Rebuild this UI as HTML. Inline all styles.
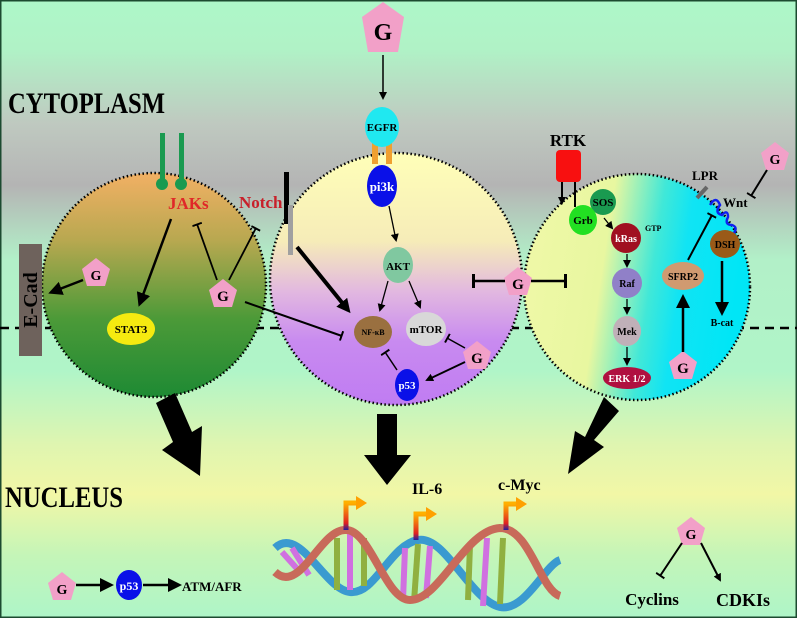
<!DOCTYPE html>
<html><head><meta charset="utf-8"><style>
html,body{margin:0;padding:0;width:797px;height:618px;overflow:hidden;background:#aef5c8}
svg{display:block}
text{font-family:"Liberation Serif",serif;font-weight:bold}
</style></head><body>
<svg width="797" height="618" viewBox="0 0 797 618">
<defs>
<linearGradient id="bg" x1="0" y1="0" x2="0" y2="1">
<stop offset="0" stop-color="#aef7c9"/><stop offset="0.08" stop-color="#b0f2c6"/>
<stop offset="0.2" stop-color="#bfc9c0"/><stop offset="0.3" stop-color="#b4b4b4"/>
<stop offset="0.42" stop-color="#b2f0c8"/><stop offset="0.6" stop-color="#b0f5c8"/>
<stop offset="0.72" stop-color="#dff5b0"/><stop offset="0.8" stop-color="#f2f7a6"/>
<stop offset="0.9" stop-color="#c4f5b8"/><stop offset="1" stop-color="#aef5c8"/>
</linearGradient>
<linearGradient id="gl" x1="0" y1="0" x2="0" y2="1">
<stop offset="0" stop-color="#f2b064"/><stop offset="0.3" stop-color="#b8a850"/>
<stop offset="0.65" stop-color="#4c9a38"/><stop offset="1" stop-color="#1e8a34"/>
</linearGradient>
<linearGradient id="gm" x1="0" y1="0" x2="0" y2="1">
<stop offset="0" stop-color="#ffffb8"/><stop offset="0.35" stop-color="#f6ecb8"/>
<stop offset="0.55" stop-color="#e2b8e0"/><stop offset="0.75" stop-color="#c88af0"/><stop offset="1" stop-color="#c07cf2"/>
</linearGradient>
<linearGradient id="gr" x1="0" y1="0" x2="1" y2="0.15">
<stop offset="0" stop-color="#f0f8a8"/><stop offset="0.4" stop-color="#e8f7a0"/>
<stop offset="0.62" stop-color="#40e8d8"/><stop offset="0.75" stop-color="#10e4f4"/><stop offset="1" stop-color="#00e6f6"/>
</linearGradient>
<linearGradient id="tss" x1="0" y1="1" x2="0" y2="0">
<stop offset="0" stop-color="#2020a0"/><stop offset="0.25" stop-color="#e02020"/><stop offset="1" stop-color="#ffb000"/>
</linearGradient>
<marker id="ah" markerWidth="8" markerHeight="8" refX="6" refY="4" orient="auto" markerUnits="userSpaceOnUse"><path d="M0,0 L8,4 L0,8 Z" fill="#000"/></marker>
<marker id="ahb" markerWidth="14" markerHeight="14" refX="10" refY="7" orient="auto" markerUnits="userSpaceOnUse"><path d="M0,0 L14,7 L0,14 Z" fill="#000"/></marker>
<marker id="tb" markerWidth="4" markerHeight="14" refX="2" refY="7" orient="auto" markerUnits="userSpaceOnUse"><rect x="0" y="0" width="3" height="14" fill="#000"/></marker>
<marker id="tbs" markerWidth="3" markerHeight="10" refX="1.5" refY="5" orient="auto" markerUnits="userSpaceOnUse"><rect x="0" y="0" width="2" height="10" fill="#000"/></marker>
<g id="pent"><polygon points="0,-15 14,-4 9,13 -9,13 -14,-4" fill="#f2a0c8"/></g>
</defs>
<rect x="0" y="0" width="797" height="618" fill="url(#bg)"/>
<rect x="0.5" y="0.5" width="796" height="617" fill="none" stroke="#1c4a30" stroke-width="2"/>

<line x1="0" y1="328" x2="797" y2="328" stroke="#000" stroke-width="2.5" stroke-dasharray="9,6"/>

<circle cx="154" cy="285" r="112" fill="url(#gl)" stroke="#000" stroke-width="2.5" stroke-dasharray="1.5,2.5"/>
<circle cx="396" cy="279" r="126" fill="url(#gm)" stroke="#000" stroke-width="2.5" stroke-dasharray="1.5,2.5"/>
<circle cx="637" cy="287" r="113" fill="url(#gr)" stroke="#000" stroke-width="2.5" stroke-dasharray="1.5,2.5"/>

<text x="8" y="113" font-size="30" textLength="157" lengthAdjust="spacingAndGlyphs">CYTOPLASM</text>
<text x="5" y="507" font-size="30" textLength="118" lengthAdjust="spacingAndGlyphs">NUCLEUS</text>

<g><polygon points="383,2 404,17 398,52 368,52 362,17" fill="#f2a0c8"/><text x="383" y="40" font-size="24" text-anchor="middle">G</text></g>
<line x1="383" y1="55" x2="383" y2="98" stroke="#000" stroke-width="1.5" marker-end="url(#ah)"/>
<rect x="372" y="142" width="6" height="22" fill="#f0a030"/>
<rect x="386" y="142" width="6" height="22" fill="#f0a030"/>
<ellipse cx="382" cy="127" rx="17" ry="20" fill="#20e8f0"/>
<text x="382" y="131" font-size="11" text-anchor="middle">EGFR</text>
<ellipse cx="382" cy="186" rx="15" ry="21" fill="#0a10e8"/>
<text x="382" y="191" font-size="13" text-anchor="middle" fill="#fff">pi3k</text>
<line x1="389" y1="206" x2="396" y2="240" stroke="#000" stroke-width="1.3" marker-end="url(#ah)"/>
<ellipse cx="398" cy="265" rx="15" ry="18" fill="#80c8a0"/>
<text x="398" y="270" font-size="11" text-anchor="middle">AKT</text>
<line x1="388" y1="281" x2="380" y2="310" stroke="#000" stroke-width="1.3" marker-end="url(#ah)"/>
<line x1="409" y1="281" x2="420" y2="307" stroke="#000" stroke-width="1.3" marker-end="url(#ah)"/>
<ellipse cx="373" cy="332" rx="19" ry="16" fill="#9a7040"/>
<text x="373" y="335" font-size="8" text-anchor="middle">NF-κB</text>
<ellipse cx="426" cy="329" rx="20" ry="17" fill="#d8d8d8"/>
<text x="426" y="333" font-size="11" text-anchor="middle">mTOR</text>
<ellipse cx="407" cy="385" rx="12" ry="16" fill="#0a10e8"/>
<text x="407" y="389" font-size="11" text-anchor="middle" fill="#fff">p53</text>
<line x1="397" y1="370" x2="385" y2="352" stroke="#000" stroke-width="1.5" marker-end="url(#tbs)"/>
<g><use href="#pent" x="477" y="356"/><text x="477" y="363" font-size="15" text-anchor="middle">G</text></g>
<line x1="465" y1="348" x2="447" y2="338" stroke="#000" stroke-width="1.5" marker-end="url(#tbs)"/>
<line x1="465" y1="362" x2="427" y2="380" stroke="#000" stroke-width="1.8" marker-end="url(#ah)"/>

<g><use href="#pent" x="518" y="282"/><text x="518" y="289" font-size="15" text-anchor="middle">G</text></g>
<line x1="505" y1="281" x2="473" y2="281" stroke="#000" stroke-width="2.5" marker-end="url(#tb)"/>
<line x1="531" y1="281" x2="566" y2="281" stroke="#000" stroke-width="2.5" marker-end="url(#tb)"/>

<rect x="160" y="133" width="5" height="48" fill="#1a9a50"/>
<rect x="179" y="133" width="5" height="48" fill="#1a9a50"/>
<circle cx="162" cy="184" r="6" fill="#1a9a50"/><circle cx="181" cy="184" r="6" fill="#1a9a50"/>
<text x="168" y="209" font-size="17" fill="#e02828">JAKs</text>
<text x="239" y="208" font-size="17" fill="#c8202a">Notch</text>
<rect x="284" y="172" width="5" height="52" fill="#000"/>
<rect x="288" y="205" width="5" height="50" fill="#a0a0a0"/>
<rect x="19" y="244" width="23" height="112" fill="#6e625c"/>
<text transform="translate(37,300) rotate(-90)" font-size="20" text-anchor="middle">E-Cad</text>
<g><use href="#pent" x="96" y="273"/><text x="96" y="280" font-size="14" text-anchor="middle">G</text></g>
<line x1="83" y1="280" x2="52" y2="292" stroke="#000" stroke-width="2.5" marker-end="url(#ahb)"/>
<line x1="171" y1="219" x2="140" y2="303" stroke="#000" stroke-width="2.5" marker-end="url(#ahb)"/>
<ellipse cx="131" cy="329" rx="24" ry="16" fill="#f5ea10"/>
<text x="131" y="333" font-size="11" text-anchor="middle">STAT3</text>
<g><use href="#pent" x="223" y="294"/><text x="223" y="301" font-size="15" text-anchor="middle">G</text></g>
<line x1="217" y1="280" x2="197" y2="224" stroke="#000" stroke-width="1.8" marker-end="url(#tbs)"/>
<line x1="229" y1="280" x2="256" y2="228" stroke="#000" stroke-width="1.8" marker-end="url(#tbs)"/>
<line x1="245" y1="302" x2="342" y2="336" stroke="#000" stroke-width="2" marker-end="url(#tbs)"/>
<line x1="297" y1="247" x2="348" y2="310" stroke="#000" stroke-width="4" marker-end="url(#ahb)"/>

<text x="568" y="146" font-size="17" text-anchor="middle">RTK</text>
<rect x="556" y="150" width="25" height="32" rx="4" fill="#f81010"/>
<line x1="562" y1="182" x2="562" y2="203" stroke="#000" stroke-width="2" marker-end="url(#ah)"/>
<line x1="575" y1="182" x2="575" y2="207" stroke="#000" stroke-width="2"/>
<circle cx="603" cy="202" r="13" fill="#1a9a50"/>
<text x="603" y="206" font-size="11" text-anchor="middle">SOS</text>
<ellipse cx="583" cy="220" rx="14" ry="15" fill="#22e022"/>
<text x="583" y="224" font-size="11" text-anchor="middle">Grb</text>
<line x1="604" y1="218" x2="612" y2="228" stroke="#000" stroke-width="1.3" marker-end="url(#ah)"/>
<ellipse cx="626" cy="238" rx="15" ry="15" fill="#a01020"/>
<text x="626" y="242" font-size="10" text-anchor="middle" fill="#fff">kRas</text>
<text x="645" y="231" font-size="8">GTP</text>
<line x1="627" y1="254" x2="627" y2="266" stroke="#000" stroke-width="1.3" marker-end="url(#ah)"/>
<ellipse cx="627" cy="283" rx="15" ry="15" fill="#9080c8"/>
<text x="627" y="287" font-size="10" text-anchor="middle">Raf</text>
<line x1="627" y1="299" x2="627" y2="313" stroke="#000" stroke-width="1.3" marker-end="url(#ah)"/>
<ellipse cx="627" cy="331" rx="14" ry="15" fill="#c0b0b8"/>
<text x="627" y="335" font-size="10" text-anchor="middle">Mek</text>
<line x1="627" y1="347" x2="627" y2="364" stroke="#000" stroke-width="1.3" marker-end="url(#ah)"/>
<ellipse cx="627" cy="378" rx="24" ry="11" fill="#b01040"/>
<text x="627" y="382" font-size="10" text-anchor="middle" fill="#fff">ERK 1/2</text>
<ellipse cx="683" cy="276" rx="21" ry="14" fill="#d09a70"/>
<text x="683" y="280" font-size="10" text-anchor="middle">SFRP2</text>
<g><use href="#pent" x="683" y="366"/><text x="683" y="373" font-size="15" text-anchor="middle">G</text></g>
<line x1="683" y1="352" x2="683" y2="298" stroke="#000" stroke-width="2.5" marker-end="url(#ahb)"/>
<line x1="688" y1="260" x2="712" y2="215" stroke="#000" stroke-width="2" marker-end="url(#tbs)"/>
<text x="705" y="180" font-size="13" text-anchor="middle">LPR</text>
<line x1="697" y1="198" x2="707" y2="187" stroke="#666" stroke-width="4"/>
<path d="M710,205 q6,-10 10,0 q-6,8 2,10 q6,-6 6,2 q-4,8 4,8 q6,2 2,8" fill="none" stroke="#1020f0" stroke-width="2.5"/>
<text x="723" y="207" font-size="13">Wnt</text>
<g><use href="#pent" x="775" y="157"/><text x="775" y="164" font-size="14" text-anchor="middle">G</text></g>
<line x1="767" y1="170" x2="751" y2="196" stroke="#000" stroke-width="2" marker-end="url(#tbs)"/>
<ellipse cx="725" cy="244" rx="15" ry="14" fill="#9a5a18"/>
<text x="725" y="248" font-size="10" text-anchor="middle">DSH</text>
<line x1="722" y1="261" x2="722" y2="312" stroke="#000" stroke-width="2.5" marker-end="url(#ahb)"/>
<text x="722" y="326" font-size="10" text-anchor="middle">B-cat</text>

<polygon points="156,403 175,393 192,432 202,426 200,476 162,450 173,442" fill="#000"/>
<polygon points="377,414 397,414 397,455 411,455 387,485 364,455 377,455" fill="#000"/>
<polygon points="604,397 619,411 594,440 604,447 568,474 575,431 585,437" fill="#000"/>

<g>
<path d="M275,548 C300,525 325,590 350,592 C375,595 390,545 418,540 C445,535 470,600 500,607 C525,612 545,565 560,560" fill="none" stroke="#3a9ad0" stroke-width="8"/>
<g stroke-width="6">
<line x1="282" y1="552" x2="300" y2="572" stroke="#d070e0"/><line x1="292" y1="548" x2="309" y2="575" stroke="#d070e0"/>
<line x1="337" y1="538" x2="337" y2="590" stroke="#90b040"/><line x1="350" y1="533" x2="350" y2="590" stroke="#d070e0"/><line x1="364" y1="538" x2="364" y2="586" stroke="#90b040"/>
<line x1="405" y1="548" x2="403" y2="600" stroke="#d070e0"/><line x1="418" y1="544" x2="414" y2="602" stroke="#90b040"/><line x1="430" y1="546" x2="426" y2="598" stroke="#d070e0"/>
<line x1="470" y1="545" x2="468" y2="600" stroke="#90b040"/><line x1="487" y1="538" x2="483" y2="606" stroke="#d070e0"/><line x1="503" y1="538" x2="500" y2="604" stroke="#90b040"/>
</g>
<path d="M275,572 C300,595 320,530 345,530 C370,528 385,600 410,600 C440,600 465,530 500,528 C530,528 540,590 560,596" fill="none" stroke="#c86a5a" stroke-width="8"/>
</g>
<g>
<path d="M346,530 V503 H357" fill="none" stroke="url(#tss)" stroke-width="5"/><polygon points="356,496 367,503 356,510" fill="#ffa000"/>
<path d="M416,540 V514 H427" fill="none" stroke="url(#tss)" stroke-width="5"/><polygon points="426,507 437,514 426,521" fill="#ffa000"/>
<path d="M506,530 V504 H517" fill="none" stroke="url(#tss)" stroke-width="5"/><polygon points="516,497 527,504 516,511" fill="#ffa000"/>
</g>
<text x="412" y="494" font-size="16">IL-6</text>
<text x="498" y="490" font-size="16">c-Myc</text>

<g><use href="#pent" x="62" y="587"/><text x="62" y="594" font-size="14" text-anchor="middle">G</text></g>
<line x1="76" y1="585" x2="110" y2="585" stroke="#000" stroke-width="2.5" marker-end="url(#ahb)"/>
<ellipse cx="129" cy="585" rx="13" ry="15" fill="#0a10e8"/>
<text x="129" y="590" font-size="12" text-anchor="middle" fill="#fff">p53</text>
<line x1="143" y1="585" x2="178" y2="585" stroke="#000" stroke-width="2.5" marker-end="url(#ahb)"/>
<text x="182" y="591" font-size="13">ATM/AFR</text>

<g><use href="#pent" x="691" y="532"/><text x="691" y="539" font-size="14" text-anchor="middle">G</text></g>
<line x1="682" y1="543" x2="660" y2="576" stroke="#000" stroke-width="2" marker-end="url(#tbs)"/>
<line x1="701" y1="543" x2="720" y2="580" stroke="#000" stroke-width="2" marker-end="url(#ah)"/>
<text x="652" y="605" font-size="17" text-anchor="middle">Cyclins</text>
<text x="743" y="606" font-size="18" text-anchor="middle">CDKIs</text>
</svg>
</body></html>
